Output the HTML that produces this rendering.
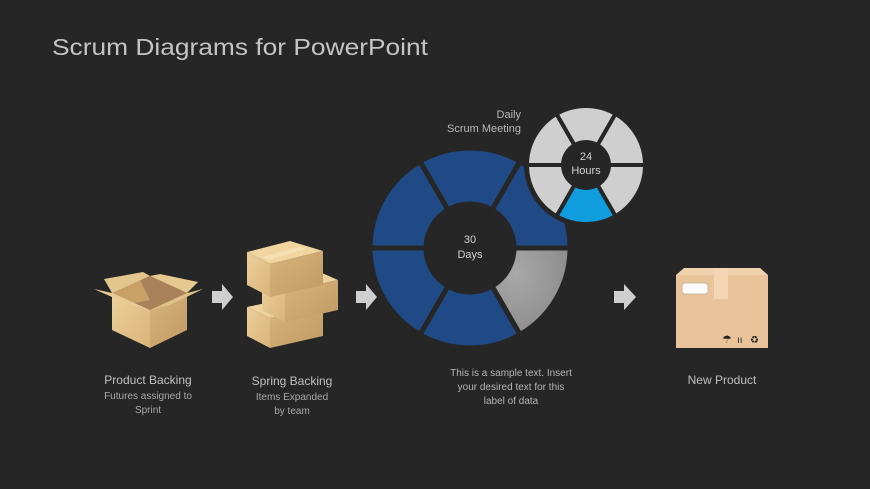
<!DOCTYPE html>
<html><head><meta charset="utf-8"><style>
html,body{margin:0;padding:0;background:#262626;}
svg{display:block;}
text{font-family:"Liberation Sans",sans-serif;}
</style></head><body>
<svg width="870" height="489" viewBox="0 0 870 489" xmlns="http://www.w3.org/2000/svg">
<defs>
<linearGradient id="bx" x1="0" y1="0" x2="1" y2="1"><stop offset="0" stop-color="#ecd09a"/><stop offset="1" stop-color="#d9b47a"/></linearGradient>
<linearGradient id="bx2" x1="0" y1="0" x2="1" y2="1"><stop offset="0" stop-color="#d8b57e"/><stop offset="1" stop-color="#c09a62"/></linearGradient>
<radialGradient id="gr" cx="0.3" cy="0.3" r="0.8"><stop offset="0" stop-color="#a8a8a8"/><stop offset="1" stop-color="#8a8a8a"/></radialGradient>
</defs>
<rect width="870" height="489" fill="#262626"/>
<text x="52" y="55" font-size="23" fill="#c4c4c4" textLength="376" lengthAdjust="spacingAndGlyphs">Scrum Diagrams for PowerPoint</text>

<!-- open box -->
<g>
<polygon points="112,293 150,276 187,293 150,310" fill="#a98259"/>
<polygon points="112,293 138,276 150,300 125,305" fill="#c8a068"/>
<polygon points="112,293 150,310 150,348 112,330" fill="url(#bx)"/>
<polygon points="150,310 187,293 187,330 150,348" fill="url(#bx2)"/>
<polygon points="112,293 94,289 130,305 150,310" fill="#e9cc95"/>
<polygon points="187,293 203,289 170,305 150,310" fill="#dfc087"/>
<polygon points="112,293 104,279 143,272 150,276" fill="#e3c58e"/>
<polygon points="187,293 198,282 160,274 150,276" fill="#e6c990"/>
</g>
<polygon points="212,291 222,291 222,284 233,297 222,310 222,303 212,303" fill="#cfcfcf"/>

<!-- stacked boxes -->
<g>
<polygon points="247,307 300,296 323,306 270,318" fill="#efd39d"/>
<polygon points="247,307 270,318 270,348 247,336" fill="url(#bx)"/>
<polygon points="270,318 323,306 323,336 270,348" fill="url(#bx2)"/>
<polygon points="262,281 315,270 338,280 285,292" fill="#efd39d"/>
<polygon points="262,281 285,292 285,322 262,310" fill="url(#bx)"/>
<polygon points="285,292 338,280 338,310 285,322" fill="url(#bx2)"/>
<polygon points="247,252 290,241 323,251 270,264" fill="#f0d59f"/>
<polygon points="247,252 270,264 270,297 247,285" fill="url(#bx)"/>
<polygon points="270,264 323,251 323,285 270,297" fill="url(#bx2)"/>
<polygon points="262,257 300,247 306,249 268,260" fill="#f5e3c0" opacity="0.7"/>
</g>
<polygon points="356,291 366,291 366,284 377,297 366,310 366,303 356,303" fill="#cfcfcf"/>

<!-- big donut -->
<g stroke="#262626" stroke-width="5" stroke-linejoin="miter">
<path d="M570,248 A100,100 0 0 1 520,334.6 L492,286.1 A44,44 0 0 0 514,248 Z" fill="url(#gr)"/>
<path d="M520,334.6 A100,100 0 0 1 420,334.6 L448,286.1 A44,44 0 0 0 492,286.1 Z" fill="#1f4a86"/>
<path d="M420,334.6 A100,100 0 0 1 370,248 L426,248 A44,44 0 0 0 448,286.1 Z" fill="#1f4a86"/>
<path d="M370,248 A100,100 0 0 1 420,161.4 L448,209.9 A44,44 0 0 0 426,248 Z" fill="#1f4a86"/>
<path d="M420,161.4 A100,100 0 0 1 520,161.4 L492,209.9 A44,44 0 0 0 448,209.9 Z" fill="#1f4a86"/>
<path d="M520,161.4 A100,100 0 0 1 570,248 L514,248 A44,44 0 0 0 492,209.9 Z" fill="#1f4a86"/>
</g>
<circle cx="470" cy="248" r="43" fill="#262626"/>
<text x="470" y="243" font-size="11" fill="#d0d0d0" text-anchor="middle">30</text>
<text x="470" y="258" font-size="11" fill="#d0d0d0" text-anchor="middle">Days</text>

<!-- small donut -->
<circle cx="586" cy="165" r="62" fill="#262626"/>
<g stroke="#262626" stroke-width="4">
<path d="M645,165 A59,59 0 0 1 615.5,216.1 L597.5,184.9 A23,23 0 0 0 609,165 Z" fill="#cfcfcf"/>
<path d="M615.5,216.1 A59,59 0 0 1 556.5,216.1 L574.5,184.9 A23,23 0 0 0 597.5,184.9 Z" fill="#0f9de0"/>
<path d="M556.5,216.1 A59,59 0 0 1 527,165 L563,165 A23,23 0 0 0 574.5,184.9 Z" fill="#cfcfcf"/>
<path d="M527,165 A59,59 0 0 1 556.5,113.9 L574.5,145.1 A23,23 0 0 0 563,165 Z" fill="#cfcfcf"/>
<path d="M556.5,113.9 A59,59 0 0 1 615.5,113.9 L597.5,145.1 A23,23 0 0 0 574.5,145.1 Z" fill="#cfcfcf"/>
<path d="M615.5,113.9 A59,59 0 0 1 645,165 L609,165 A23,23 0 0 0 597.5,145.1 Z" fill="#cfcfcf"/>
</g>
<circle cx="586" cy="165" r="22" fill="#262626"/>
<text x="586" y="160" font-size="11" fill="#d0d0d0" text-anchor="middle">24</text>
<text x="586" y="174" font-size="11" fill="#d0d0d0" text-anchor="middle">Hours</text>
<text x="521" y="118" font-size="11" fill="#b8b8b8" text-anchor="end">Daily</text>
<text x="521" y="132" font-size="11" fill="#b8b8b8" text-anchor="end">Scrum Meeting</text>

<polygon points="614,291 624,291 624,284 636,297 624,310 624,303 614,303" fill="#cfcfcf"/>

<!-- new product box -->
<g>
<polygon points="676,275 684,268 760,268 768,275" fill="#f0d2ad"/>
<rect x="676" y="275" width="92" height="73" fill="#e9c49b"/>
<rect x="714" y="268" width="14" height="31" fill="#f4d6b4"/>
<rect x="682" y="283" width="26" height="11" rx="3" fill="#fbfbfb" stroke="#c9b8a0"/>
<text x="722" y="343" font-size="11" fill="#222">☂</text>
<text x="737" y="343" font-size="10" fill="#222">ıı</text>
<text x="750" y="343" font-size="10" fill="#222">♻</text>
</g>

<!-- labels -->
<g fill="#c0c0c0" text-anchor="middle">
<text x="148" y="384" font-size="12">Product Backing</text>
<text x="148" y="399" font-size="10" fill="#a8a8a8">Futures assigned to</text>
<text x="148" y="413" font-size="10" fill="#a8a8a8">Sprint</text>
<text x="292" y="385" font-size="12">Spring Backing</text>
<text x="292" y="400" font-size="10" fill="#a8a8a8">Items Expanded</text>
<text x="292" y="414" font-size="10" fill="#a8a8a8">by team</text>
<text x="511" y="376" font-size="10" fill="#b4b4b4">This is a sample text. Insert</text>
<text x="511" y="390" font-size="10" fill="#b4b4b4">your desired text for this</text>
<text x="511" y="404" font-size="10" fill="#b4b4b4">label of data</text>
<text x="722" y="384" font-size="12">New Product</text>
</g>
</svg>
</body></html>
